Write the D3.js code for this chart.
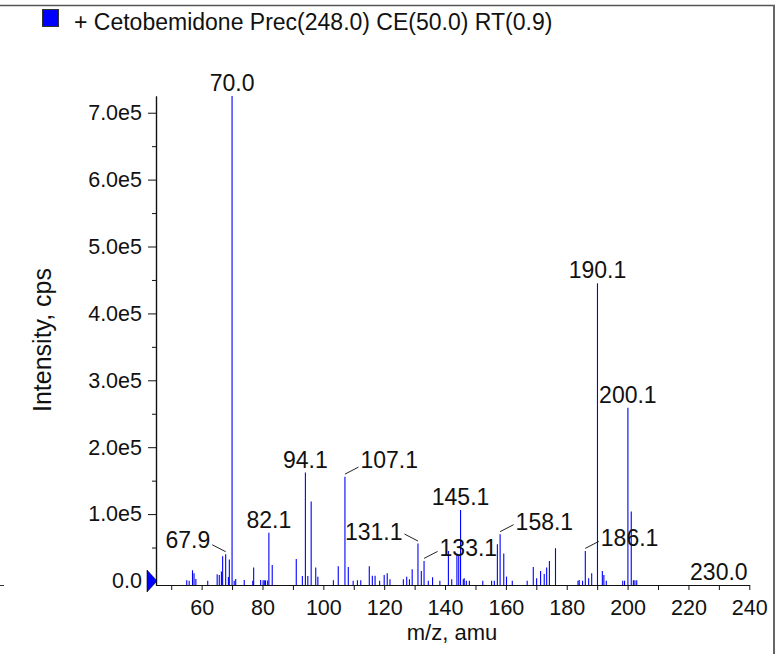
<!DOCTYPE html>
<html><head><meta charset="utf-8">
<script src="https://cdn.jsdelivr.net/npm/d3@7"></script>
<style>
html,body{margin:0;padding:0;background:#fff;}
svg{display:block;font-family:"Liberation Sans",Arial,Helvetica,sans-serif;}
</style></head>
<body><svg id="c" width="776" height="654"></svg>
<script>
// ---- data ----
const title = "+ Cetobemidone Prec(248.0) CE(50.0) RT(0.9)";
const xLabel = "m/z, amu";
const yLabel = "Intensity, cps";
const peakMz = [55.1,55.9,57.0,57.5,58.1,62.0,65.1,65.8,66.5,66.9,67.9,68.8,69.1,70.0,70.7,71.2,74.0,76.8,77.1,79.4,80.2,80.6,81.0,81.7,82.1,83.2,91.1,93.1,94.1,94.9,96.0,97.5,98.2,103.3,104.9,107.1,108.2,109.8,111.2,112.3,115.1,116.1,117.0,118.5,120.0,121.0,121.9,126.3,127.4,128.3,129.2,131.1,132.2,133.1,134.5,135.9,138.3,141.1,142.2,143.9,144.5,145.1,146.0,146.3,147.0,148.0,152.4,155.3,156.2,157.2,158.1,159.3,160.2,162.1,167.0,169.0,170.1,171.4,172.6,173.4,174.3,176.3,183.7,184.1,185.2,186.1,187.2,188.2,190.1,191.7,192.2,193.0,198.4,199.0,200.1,201.2,201.9,202.4,203.0,230.0];
const peakIntensity = [1000,500,16000,11500,3000,500,10000,9000,14000,37000,40000,6000,32000,725000,500,3000,1500,500,20000,1500,1000,1000,1000,700,72000,24000,33000,7500,162000,7500,119000,20000,6500,1000,22000,156000,21000,500,1000,1000,22000,8000,8000,500,9000,11500,2500,2500,6500,2500,17500,56000,15000,30000,500,5500,500,45000,2500,41000,39000,106000,2500,4000,500,500,500,500,500,55000,70000,41000,6500,500,500,21000,4000,15000,10500,20000,30000,49000,500,1500,500,45000,4000,11500,445000,15000,9000,500,500,500,259000,104000,1000,1000,1000,0];
const labelMz = [70.0,190.1,200.1,94.1,107.1,82.1,67.9,131.1,133.1,145.1,158.1,186.1,230.0];
const labelText = ["70.0","190.1","200.1","94.1","107.1","82.1","67.9","131.1","133.1","145.1","158.1","186.1","230.0"];
const xTicks = [60,80,100,120,140,160,180,200,220,240];
const xTickLabels = ["60","80","100","120","140","160","180","200","220","240"];
const xMinorTicks = [50,70,90,110,130,150,170,190,210,230];
const yTicks = [0,100000,200000,300000,400000,500000,600000,700000];
const yTickLabels = ["0.0","1.0e5","2.0e5","3.0e5","4.0e5","5.0e5","6.0e5","7.0e5"];
const yMinorTicks = [50000,150000,250000,350000,450000,550000,650000];

// ---- layout / style ----
const svg = d3.select("#c");
const x = d3.scaleLinear().domain([45,240]).range([156,749.3]);
const y = d3.scaleLinear().domain([-6000,725000]).range([585,96]);
const blue = "#0000ff";

// frame
svg.append("line").attr("x1",0).attr("x2",775).attr("y1",5.5).attr("y2",5.5).attr("stroke","#555").attr("stroke-width",1.5);
svg.append("line").attr("x1",774).attr("x2",774).attr("y1",5).attr("y2",654).attr("stroke","#666").attr("stroke-width",2);
svg.append("line").attr("x1",0).attr("x2",4).attr("y1",585.5).attr("y2",585.5).attr("stroke","#333").attr("stroke-width",1);

// legend / title
svg.append("rect").attr("x",42.5).attr("y",9.5).attr("width",16).attr("height",17).attr("fill",blue).attr("stroke","#333").attr("stroke-width",1);
svg.append("text").attr("x",74).attr("y",29.5).attr("font-size",23).attr("fill","#111").text(title);

// peaks
const peaks = peakMz.map((m,i)=>({mz:m,v:peakIntensity[i]}));
svg.append("g").selectAll("line").data(peaks.filter(p=>p.v>0)).join("line")
  .attr("x1",d=>x(d.mz)).attr("x2",d=>x(d.mz))
  .attr("y1",y.range()[0]).attr("y2",d=>y(d.v))
  .attr("stroke",blue).attr("stroke-width",1.1);

// axes
const fs = 21.5;
svg.append("g").attr("transform","translate(0,585)")
  .call(d3.axisBottom(x).tickValues(xTicks).tickFormat((d,i)=>xTickLabels[i]).tickSize(5).tickSizeOuter(0).tickPadding(10));
svg.append("g").attr("transform","translate(0,585)")
  .call(d3.axisBottom(x).tickValues(xMinorTicks).tickFormat("").tickSize(5).tickSizeOuter(0));
svg.append("g").attr("transform","translate(156,0)")
  .call(d3.axisLeft(y).tickValues(yTicks).tickFormat((d,i)=>yTickLabels[i]).tickSize(8).tickSizeOuter(0).tickPadding(6));
svg.append("g").attr("transform","translate(156,0)")
  .call(d3.axisLeft(y).tickValues(yMinorTicks).tickFormat("").tickSize(4).tickSizeOuter(0));
svg.selectAll(".domain").attr("stroke","#111").attr("stroke-width",1.2);
svg.selectAll(".tick line").attr("stroke","#111");
svg.selectAll(".tick text").attr("font-size",fs).attr("fill","#111").attr("font-family","Liberation Sans, Arial, sans-serif");

// precursor/zero marker
const y0 = y(0);
svg.append("path").attr("d",`M147,${y0-11}L157,${y0}L147,${y0+11}Z`).attr("fill",blue).attr("stroke","#000").attr("stroke-width",0.6);

// axis titles
svg.append("text").attr("x",452).attr("y",640).attr("text-anchor","middle").attr("font-size",22).attr("fill","#111").text(xLabel);
svg.append("text").attr("transform","translate(51,340) rotate(-90)").attr("text-anchor","middle").attr("font-size",25).attr("fill","#111").text(yLabel);

// peak labels
const leaderStyle = {
  "67.9":{side:"left",ty:-6}, "131.1":{side:"left",ty:-3.5},
  "107.1":{side:"right",ty:-9}, "133.1":{side:"right",ty:-4.5},
  "158.1":{side:"right",ty:-4.5}, "186.1":{side:"right",ty:-4.5}
};
const lookup = new Map(peaks.map(p=>[p.mz,p.v]));
labelMz.forEach((m,i)=>{
  const px = x(m), py = y(lookup.get(m));
  const st = leaderStyle[labelText[i]];
  const g = svg.append("g");
  if(!st){
    const v = lookup.get(m);
    g.append("text").attr("x",px).attr("y",v>0?py-5:py-1).attr("text-anchor","middle")
      .attr("font-size",23).attr("fill","#111").text(labelText[i]);
  } else {
    const s = st.side==="left"?-1:1;
    g.append("line").attr("x1",px).attr("y1",py-2.5).attr("x2",px+s*13.5).attr("y2",py-9.5)
      .attr("stroke","#222").attr("stroke-width",1);
    g.append("text").attr("x",px+s*15.5).attr("y",py+st.ty).attr("text-anchor",s<0?"end":"start")
      .attr("font-size",23).attr("fill","#111").text(labelText[i]);
  }
});
</script></body></html>
